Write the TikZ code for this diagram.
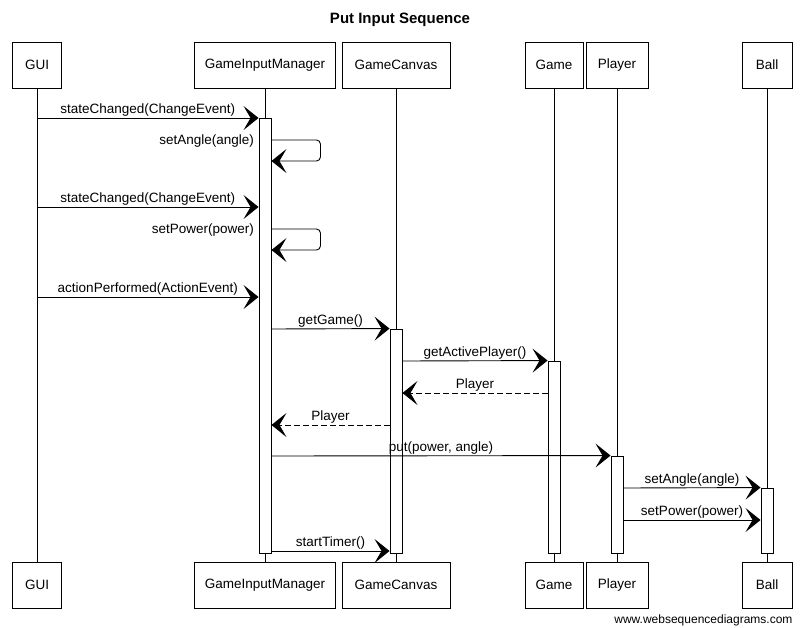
\documentclass[tikz,border=0pt]{standalone}
\usepackage{fontspec}
\setmainfont{Liberation Sans}
\usetikzlibrary{arrows.meta}

\tikzset{
  actor/.style={draw, line width=0.9pt, minimum height=46pt, inner sep=2pt, font=\fontsize{13.5}{16}\selectfont},
  actbar/.style={draw, fill=white, line width=0.9pt, minimum width=12pt, inner sep=0pt},
  life/.style={line width=0.7pt},
  msg/.style={line width=0.9pt, -{Stealth[length=15pt,width=24pt,inset=7pt]}},
  reply/.style={msg, dash pattern=on 6pt off 3pt},
  lbl/.style={font=\fontsize{13.5}{16}\selectfont, inner sep=1.5pt, above}
}

\begin{document}
\begin{tikzpicture}[x=1pt,y=-1pt]
\useasboundingbox (0,0) rectangle (801,627);

% Title
\node[font=\bfseries\fontsize{15}{18}\selectfont] (title) at (400,20) {Put Input Sequence};

% Participants, top
\node[actor, minimum width=49pt]  (guiT)    at (37,65)  {GUI};
\node[actor, minimum width=141pt] (gimT)    at (265,65) {GameInputManager};
\node[actor, minimum width=108pt] (canvasT) at (396,65) {GameCanvas};
\node[actor, minimum width=58pt]  (gameT)   at (554,65) {Game};
\node[actor, minimum width=62pt]  (playerT) at (617,65) {Player};
\node[actor, minimum width=50pt]  (ballT)   at (767,65) {Ball};

% Participants, bottom
\node[actor, minimum width=49pt]  (guiB)    at (37,585)  {GUI};
\node[actor, minimum width=141pt] (gimB)    at (265,585) {GameInputManager};
\node[actor, minimum width=108pt] (canvasB) at (396,585) {GameCanvas};
\node[actor, minimum width=58pt]  (gameB)   at (554,585) {Game};
\node[actor, minimum width=62pt]  (playerB) at (617,585) {Player};
\node[actor, minimum width=50pt]  (ballB)   at (767,585) {Ball};

% Lifelines
\draw[life] (guiT) -- (guiB);
\draw[life] (gimT) -- (gimB);
\draw[life] (canvasT) -- (canvasB);
\draw[life] (gameT) -- (gameB);
\draw[life] (playerT) -- (playerB);
\draw[life] (ballT) -- (ballB);

% Activations
\node[actbar, minimum height=435pt] (gimA)    at (265,335.5) {};
\node[actbar, minimum height=224pt] (canvasA) at (396,441)   {};
\node[actbar, minimum height=192pt] (gameA)   at (554,457)   {};
\node[actbar, minimum height=97pt]  (playerA) at (617,504.5) {};
\node[actbar, minimum height=65pt]  (ballA)   at (767,520.5) {};

% Messages
\draw[msg] (guiT.south |- 0,118) -- (gimA.west |- 0,118) node[lbl, midway] {stateChanged(ChangeEvent)};
\draw[msg, rounded corners=4pt] (gimA.east |- 0,140) -- ++(49,0) -- ++(0,21) -- (gimA.east |- 0,161);
\node[lbl, anchor=east] (setAngleLbl) at ([xshift=-3pt]gimA.west |- 0,141) {setAngle(angle)};

\draw[msg] (guiT.south |- 0,207) -- (gimA.west |- 0,207) node[lbl, midway] {stateChanged(ChangeEvent)};
\draw[msg, rounded corners=4pt] (gimA.east |- 0,229) -- ++(49,0) -- ++(0,21) -- (gimA.east |- 0,250);
\node[lbl, anchor=east] (setPowerLbl) at ([xshift=-3pt]gimA.west |- 0,230) {setPower(power)};

\draw[msg] (guiT.south |- 0,297) -- (gimA.west |- 0,297) node[lbl, midway] {actionPerformed(ActionEvent)};
\draw[msg] (gimA.east |- 0,329) -- (canvasA.north west) node[lbl, midway] {getGame()};
\draw[msg] (canvasA.east |- 0,361) -- (gameA.north west) node[lbl, midway] {getActivePlayer()};
\draw[reply] (gameA.west |- 0,393) -- (canvasA.east |- 0,393) node[lbl, midway] {Player};
\draw[reply] (canvasA.west |- 0,425) -- (gimA.east |- 0,425) node[lbl, midway] {Player};
\draw[msg] (gimA.east |- 0,456) -- (playerA.north west) node[lbl, midway] {put(power, angle)};
\draw[msg] (playerA.east |- 0,488) -- (ballA.north west) node[lbl, midway] {setAngle(angle)};
\draw[msg] (playerA.east |- 0,520) -- (ballA.west |- 0,520) node[lbl, midway] {setPower(power)};
\draw[msg] (gimA.east |- 0,551) -- (canvasA.west |- 0,551) node[lbl, midway] {startTimer()};

% Footer
\node[anchor=east, font=\fontsize{12}{14}\selectfont] (credit) at (796,620) {www.websequencediagrams.com};
\end{tikzpicture}
\end{document}
